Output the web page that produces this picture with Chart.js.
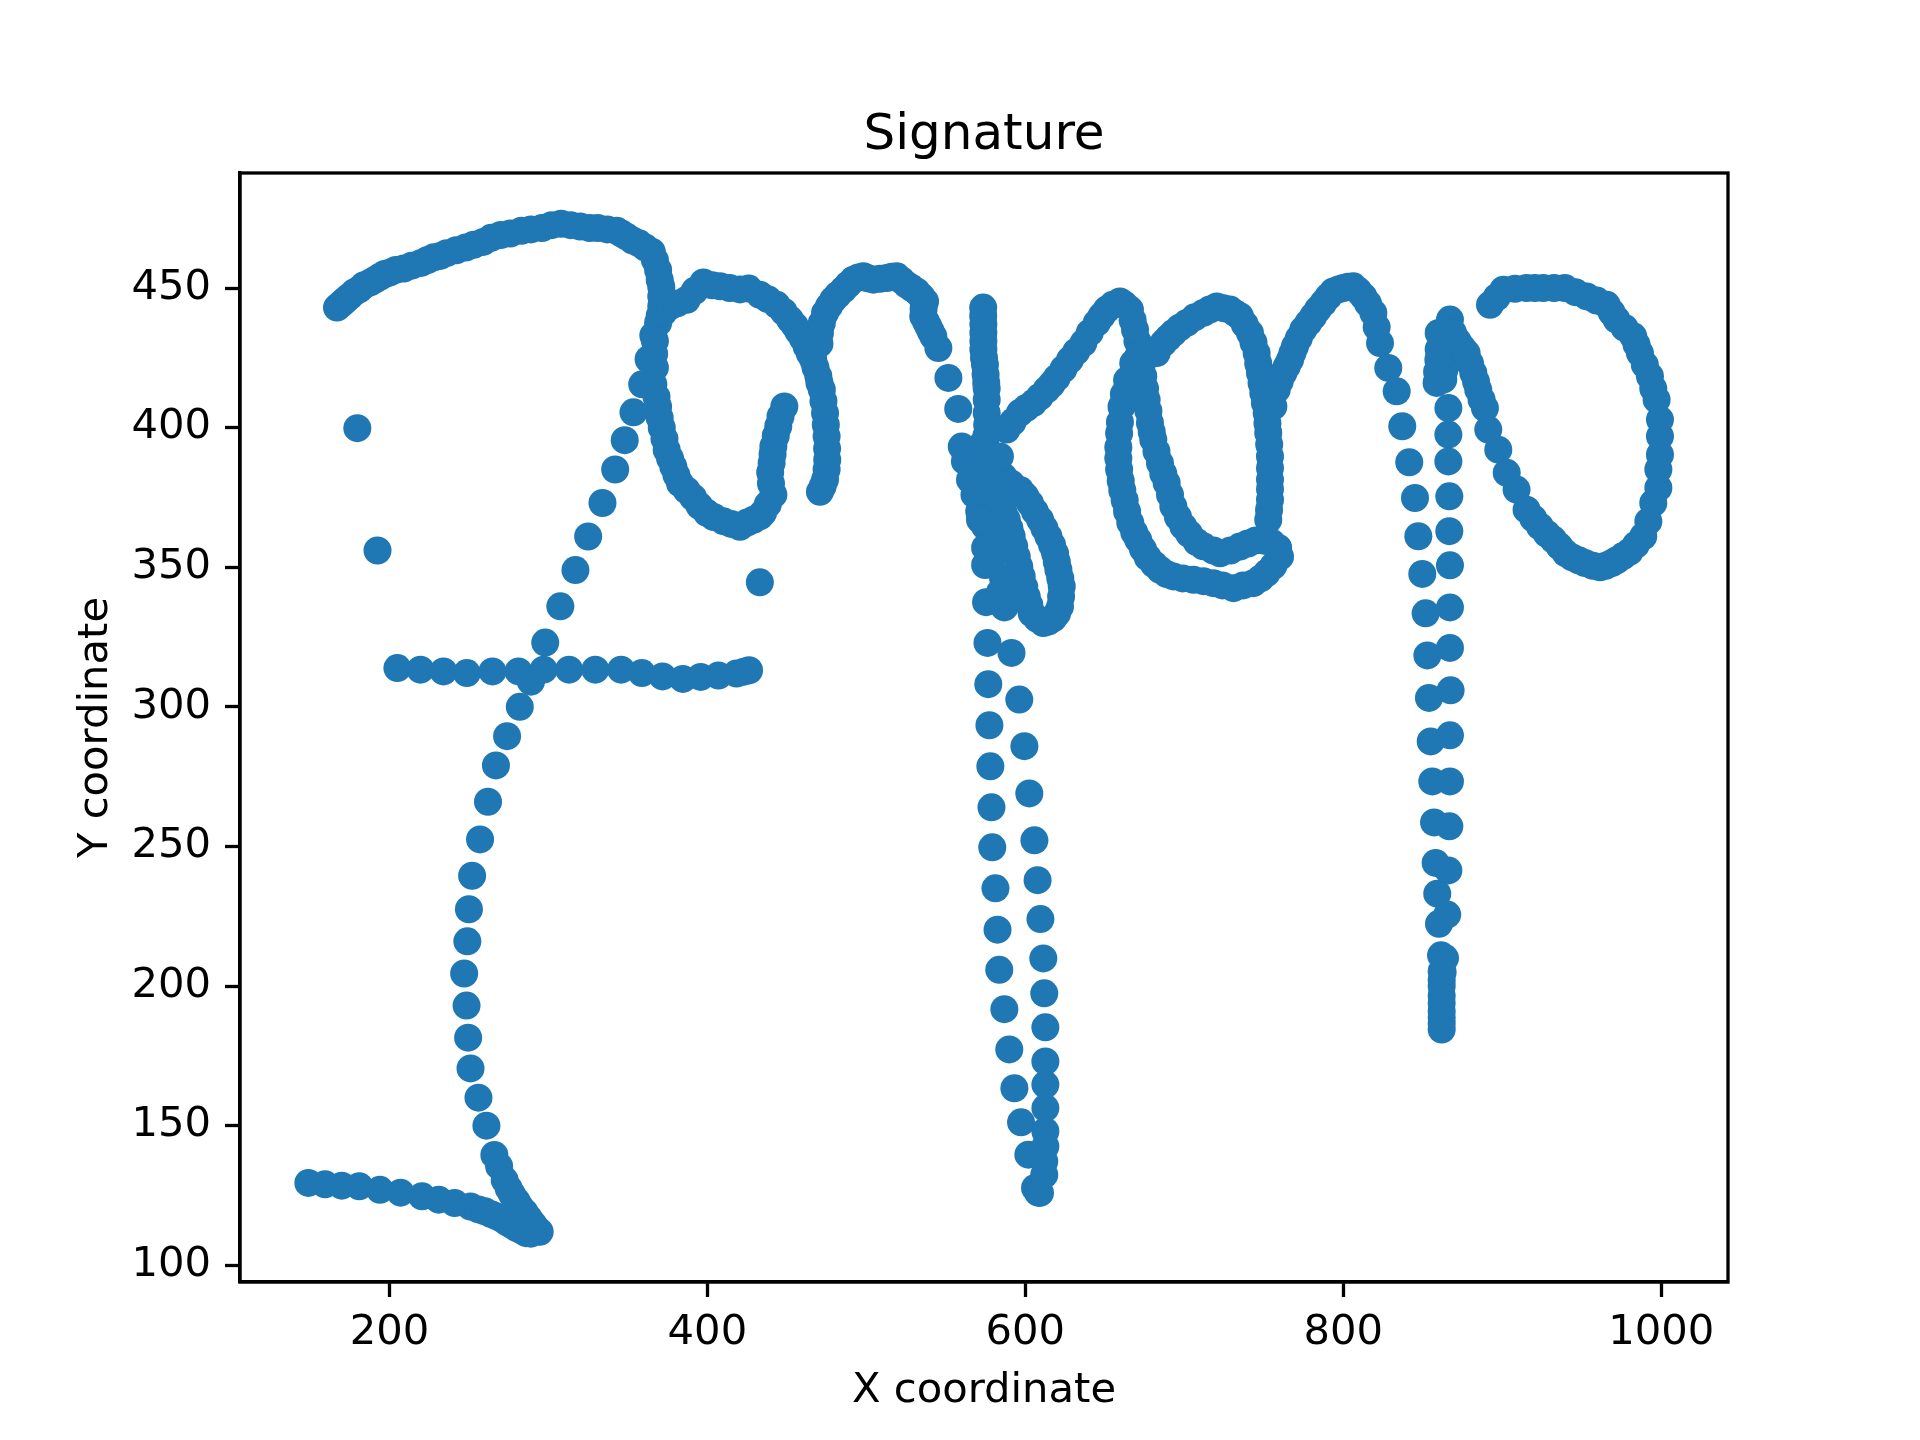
<!DOCTYPE html>
<html>
<head>
<meta charset="utf-8">
<script src="https://cdn.jsdelivr.net/npm/chart.js@4.4.1/dist/chart.umd.min.js"></script>
<style>
  html, body { margin: 0; padding: 0; background: #fff; }
  canvas { display: block; }
</style>
</head>
<body>
<canvas id="myChart" width="1920" height="1440" style="width:1920px;height:1440px"></canvas>
<script>
// signature strokes, [x, y]

const jTopArc = [
  [167,443],[169,444],[171,445],[173,446],[175,447],[178,448.5],[181,449.5],[184,451],[188,452],[191,453],
  [194,454],[197,455],[200,455.5],[204,456.5],[209,457],[214,458],[220,459],[224,460],[228,461],[232,461.5],
  [236,462.5],[242,463.5],[248,464.5],[253,465.5],[259,466.5],[264,468],[270,469],[276,469.5],[283,470.5],
  [289,471],[296,471.5],[302,472.5],[308,473],[314,472.5],[320,472],[326,471.5],[331,471.5],[337,471],
  [343,470.5],[346,469.5],[349,468.5],[353,467],[357,466],[361,464.5],[365,463],[367,460],[369,456.5],
  [370,453],[371,450.5],[371,447],[371,443.5],[370,440],[369,437.5]
];

const jStem = [
  [366,433],[363,424.5],[359,415.5],[353.5,405.5],[348,395.5],[342,385],[334,373],[325,361],[317,349],
  [307.5,336],[298,323],[289,309],[282,300],[274,289.5],[267,279],[262,266],[257,252.5],[252,239.5],
  [250,227.5],[249,216],[247,204.5],[248.5,193],[249.5,181.5],[251,170.5],[256,160],[261,150],[266,139.5],
  [269,135.5],[272.5,130.5],[275,127.5],[277,125.5],[280,123],[282,121],[285,119],[287.5,117],[290,115],
  [292,113.5],[294.5,112]
];

const jBase = [
  [149,129.5],[159.5,129],[170,128.5],[181,128.3],[194,127],[207,126],[220.5,124.7],[231,123.5],[241,122.3],
  [251,121],[256,120],[260,119.3],[264,118.3],[267.5,117.5],[271,116.5],[274,115.4],[277,114.4],[280,113.3],
  [283,112.5],[286,111.5],[289,111.3]
];

const crossBar = [
  [205,313.9],[219.5,313.3],[234,312.7],[248.7,312.1],[264.8,312.7],[281.2,312.7],[297,313.3],[313,313.3],
  [329.5,313.3],[345.7,313.3],[358.8,312.1],[371.8,310.9],[384.6,310],[395.8,310.7],[407,311.2],[418.3,311.9],
  [423,312.6],[426.2,313.1]
];

const dots = [[179.8,399.8],[192.5,356],[433,344.6]];

const oLoop = [
  [367,431],[366.5,426.5],[367,421.5],[366,415.5],[368,411],[369,407.5],[370,403.5],[371.3,400],[373,396],
  [374.4,392],[376.5,389],[378.6,386],[380.5,383],[382.8,380],[387,377.5],[391,375],[395,372],[399.6,369.5],
  [404,368],[410,366.5],[415,365.5],[420.5,364.5],[425,366],[429,367],[433,368.2],[435,369.5],[438,372.5],
  [441.5,376],[440,380],[439.5,384],[440.4,387.3],[441,390.5],[441.5,393.3],[443,397],[444.6,400.5],
  [446,404],[448.4,407.6]
];

const oTop = [
  [372,441],[376.5,443.4],[381,444.5],[387,445.8],[392,449],[397.5,452],[403,451],[408,450.6],[414,450],
  [420.5,449.5],[426,449.8],[433,447.6],[438,446],[443.6,444],[448,441.5],[452,438.7],[455,436.5],
  [457.2,434.5],[460,432],[462.4,429.1],[464.5,426.5],[466.6,424.3],[468,421.5],[469.8,418.4],[470.5,416],
  [472,413.6],[473,409.5],[474,405.2],[474.5,401],[475,396.9],[475.3,392.5],[475.4,388.5],[475,385],
  [474,381.4],[472.5,379],[470.8,377]
];

const nArch = [
  [470.5,430],[470.8,433.9],[472,437.5],[474,441.1],[476.5,443.5],[479.2,445.8],[482,447.5],[485.5,449.4],
  [488.5,451.2],[491.8,453],[495,453.8],[498.1,454.2],[501,453.5],[504.4,453],[508.5,453.3],[512.8,453.6],
  [516,454],[519.1,454.2],[522,452.8],[525.3,451.2],[528.5,450],[531.6,448.8],[534.5,447],[536.9,445.2],
  [536,442.5],[535.8,439.9],[537.5,438],[539,436.3],[540.5,434.5],[542.1,432.7],[545.3,428.5],[551.6,417.8],
  [557.8,406.7],[560,393.2],[562,388],[565.2,381.3],[568,376],[571,370]
];

const kStem = [
  [573.5,443],[573.5,440],[573.6,437],[573.6,434],[573.6,431],[573.6,428],[574,425],[574.6,422.6],[575,419],
  [575.4,416],[575.7,414],[575.7,410],[575.7,405.2],[576,401],[575.5,397],[575,393],[574.5,389],[574,385],
  [573.5,381],[573.8,377],[574.2,372],[574.6,368],[574.7,364.6],[574.7,357],[574.7,350.8],[575.3,337.5],
  [576.2,322.9],[576.7,308.1],[577.4,293.4],[578,278.7],[578.7,264],[579.2,249.7],[581.2,235],[582.5,220.2],
  [583.6,205.8],[586.8,191.7],[589.9,177.3],[593.1,163.4],[597.3,151.2],[601.9,139.6],[606.1,127.7],
  [608,126],[609.2,125.9],[611.9,132.4],[611.9,137.2],[612.6,142.6],[612.6,148],[612.6,156.3],[612.6,164.7],
  [612.6,173],[612.6,185.2],[611.9,197.4],[611.3,209.9],[609.5,224],[607.7,237.9],[605.7,252.2],[602.5,269],
  [599.4,285.9],[596.2,302.6],[591.3,319.3],[586.8,335.6]
];

const kLoop = [
  [569.4,381.3],[571.5,393.2],[577.8,387.3],[582,383.5],[586.2,382.5],[591,380],[596.7,377.7],[600,375.5],
  [603,372.9],[606,370],[609.3,367],[612,364],[614.5,361],[616.8,358],[618.7,355],[619.8,352],[620.8,349.1],
  [622,346],[622.9,343.1],[622.5,339.5],[621.8,335.9],[620,333.5],[617.6,331.7],[614.5,330.5],[611.3,330],
  [607.5,331.5],[604,333.5],[602.5,336.5],[600.9,339.5],[599.3,343],[597.7,346.7],[596.2,350.2],
  [594.6,353.8],[593,357.5],[591.4,361],[590,364],[588.3,367],[586.2,370],[584.1,372.9],[581,375.5],
  [577.8,377.7],[571.5,367],[579.9,353.8],[582,360],[586,346],[584,341]
];

const kArm = [
  [584,389.7],[588.2,399.3],[592,402],[596.6,405.3],[600.5,407],[605,408.8],[609,411],[613.4,413.6],
  [616.5,415.5],[619.7,417.8],[624,421],[628.1,424.3],[632,427.2],[636.5,430.3],[640.5,434],[644.9,437.5],
  [648,440],[651.2,442.3],[655,444],[659.5,445.2],[662.5,444],[665.8,442.3]
];

const kDown = [
  [667.5,438.5],[669,435.1],[670.5,431],[672.1,426.7],[673.2,422.5],[674.2,418.4],[675.3,414],[676.3,410],
  [677.4,406],[678.4,401.7],[679.5,398.5],[680.5,395.7],[682.5,391.5],[684.7,387.3],[686.8,383.5],
  [688.9,380.2],[691,376],[693.1,371.8],[696,368],[699.4,364.6],[703,362],[707.8,359],[712,357.5],[718.3,356]
];

const koLoop = [
  [664,417],[662,412],[660.5,407.5],[659.5,402],[659,398],[658.5,393],[658.5,389],[659,385],[660,381],
  [661,377.5],[662.5,374],[664,370],[666,366],[668.5,362.5],[671,359.8],[674,356.5],[677,353.5],[681,351],
  [684.7,349.1],[689,347.5],[693.1,346.7],[699,346],[705.7,345.5],[712,345],[718.3,344.3],[724,343.5],
  [730.9,342.5],[737,343.5],[743.4,344.3],[748,346],[751.8,347.9],[756,350.5],[760.2,353.8],[759,357],
  [755,358.8],[750,359.5],[745,359.6],[740,358.5],[735,357.4],[729,356],[722.5,355]
];

const koTop = [
  [667.9,423.1],[671,425.5],[676,426],[682.6,426.7],[686.8,430.3],[690,432.2],[693.1,433.9],[697,435.8],
  [701.5,437.5],[706.5,439.5],[712,441.1],[716,442.3],[720.4,443.4],[724.5,442.8],[728.7,442.3],[732,441],
  [735,439.9],[738,437],[741.3,433.9],[743.5,430.5],[745.5,426.7],[746.5,423],[747.6,419.6],[748.6,416],
  [749.7,412.4],[750.7,408.8],[751.8,405.2],[752.3,401.6],[752.8,398.1],[753.4,394],[753.9,389.7],
  [753.9,385.5],[753.9,381.4],[753.9,378],[753.9,374.2],[753.3,370.5],[752.8,367]
];

const mHump = [
  [756,407.6],[758.1,413.6],[760,416.5],[762.3,419.6],[764.5,422],[766.5,424.3],[768,426.7],[769.6,429.1],
  [772,432],[774.8,435.1],[778,437.5],[781.1,439.9],[784,442.3],[787.4,444.6],[790.5,446.8],[793.7,448.8],
  [797,449.5],[800,450],[803,450.5],[806.3,450.6],[809.5,449],[812.6,447],[815.5,444.5],[818.9,441.1],
  [821,436],[823.1,430.3],[828.3,421.4],[833.6,413],[837.1,400.5],[841.5,387.6],[845.1,374.8],[847.2,361.1],
  [849.7,347.6],[851.8,333.5],[852.9,318.4],[853.9,303.2],[855,287.6],[856,273.3],[857.1,258.6],
  [858.1,244.1],[859.1,233.1],[860.2,222.3],[861.5,211],[861.9,205.3],[861.9,202],[861.9,199.9],
  [861.9,196.5],[861.9,193.9],[861.9,191],[861.9,188.6],[861.9,186.5],[861.9,184.4]
];

const pStem = [
  [867.1,438.7],[866,435],[865,431.5],[864.5,428],[864,424.3],[863.5,420.5],[862.9,417.2],[860,433.9],
  [860,428],[859.8,424.3],[859,420],[858.7,416],[866.1,407],[866.1,397.5],[866.1,387.9],[866.7,375.4],
  [866.7,362.9],[867.1,350.7],[867.1,335.6],[867.1,321.1],[867.5,305.9],[867.1,289.8],[867.1,273.3],
  [866.7,257.2],[866.1,241.4],[865.4,225.6],[864,210],[862.5,205]
];

const pDiag = [
  [869,434],[872,431],[875,428.5],[877.6,426.7],[879.7,423],[881.8,419.6],[883.5,416.5],[884.9,413.6],
  [887,410],[889.1,407],[891.2,399.3],[897.5,392.1],[902.8,383.8],[909,377.8],[915.3,370.6],[919.5,367.5],
  [923.7,364.6],[928,362],[932.1,359.9],[936,357.5],[940,355],[944,353.5],[948,352.5],[952,351.5],
  [957,350.5],[961.5,350],[965,350.5],[969,351.5],[972,352.5],[976,354],[980,355.5],[984,358],[988.7,361.1]
];

const pBowl = [
  [991.9,366.4],[995,373],[998.2,378.4],[998.2,385],[999.2,390.3],[999.2,396.9],[999.2,402.9],[997.1,410],
  [995,414],[992.9,418.4],[989.7,422.5],[986.6,426.7],[984.5,429.7],[982.4,432.7],[977,435.7],[971.9,438.7],
  [968.8,441.3],[965.7,444],[959.4,445.5],[953.1,447],[946,448.5],[939.4,450],[932.6,450],[925.8,450],
  [920.5,450],[915.3,450],[908,449.7],[900.7,449.4],[896.5,446.7],[892.3,444]
];

const strokes = [jTopArc, jStem, jBase, crossBar, dots, oLoop, oTop, nArch, kStem, kLoop, kArm,
  kDown, koLoop, koTop, mHump, pStem, pDiag, pBowl];

const xTicks = [200, 400, 600, 800, 1000];
const yTicks = [100, 150, 200, 250, 300, 350, 400, 450];

const points = strokes.flat().map(function (p) {
  return { x: p[0], y: p[1] };
});

const font = { family: 'DejaVu Sans', size: 41.7, weight: 'normal', lineHeight: 1.2 };

// matplotlib draws a box round the axes
const frame = {
  id: 'frame',
  afterDraw(chart) {
    const a = chart.chartArea;
    const ctx = chart.ctx;
    ctx.save();
    ctx.strokeStyle = '#000';
    ctx.lineWidth = 3.3;
    ctx.strokeRect(a.left, a.top, a.right - a.left, a.bottom - a.top);
    ctx.restore();
  }
};

const axisGrid = {
  display: true,
  drawOnChartArea: false,
  drawTicks: true,
  tickLength: 15,
  tickWidth: 3.3,
  tickColor: '#000',
  color: '#000'
};

function plainLabel(value) {
  return String(value);
}

const config = {
  type: 'scatter',
  data: {
    datasets: [{
      label: 'Signature',
      data: points,
      backgroundColor: '#1f77b4',
      borderWidth: 0,
      pointRadius: 14,
      pointHoverRadius: 14
    }]
  },
  options: {
    responsive: false,
    animation: false,
    devicePixelRatio: 1,
    events: [],
    layout: { padding: { left: 0, right: 192, top: 0, bottom: 0 } },
    plugins: {
      legend: { display: false },
      tooltip: { enabled: false },
      title: {
        display: true,
        text: 'Signature',
        fullSize: false,
        color: '#000',
        font: { family: 'DejaVu Sans', size: 50, weight: 'normal', lineHeight: 1.2 },
        padding: { top: 106, bottom: 7 }
      }
    },
    scales: {
      x: {
        type: 'linear',
        min: 106,
        max: 1042,
        afterFit(scale) { scale.height = 158; },
        afterBuildTicks(scale) { scale.ticks = xTicks.map(v => ({ value: v })); },
        grid: axisGrid,
        border: { display: true, color: '#000', width: 3.3 },
        ticks: { color: '#000', font: font, padding: 11, maxRotation: 0, autoSkip: false, callback: plainLabel },
        title: { display: true, text: 'X coordinate', color: '#000', font: font, padding: { top: 0, bottom: 24 } }
      },
      y: {
        type: 'linear',
        min: 94,
        max: 491.2,
        afterFit(scale) { scale.width = 240; },
        afterBuildTicks(scale) { scale.ticks = yTicks.map(v => ({ value: v })); },
        grid: axisGrid,
        border: { display: true, color: '#000', width: 3.3 },
        ticks: { color: '#000', font: font, padding: 14, autoSkip: false, callback: plainLabel },
        title: { display: true, text: 'Y coordinate', color: '#000', font: font, padding: { top: 71, bottom: 0 } }
      }
    }
  },
  plugins: [frame]
};

const myChart = new Chart(document.getElementById('myChart'), config);
</script>
</body>
</html>
